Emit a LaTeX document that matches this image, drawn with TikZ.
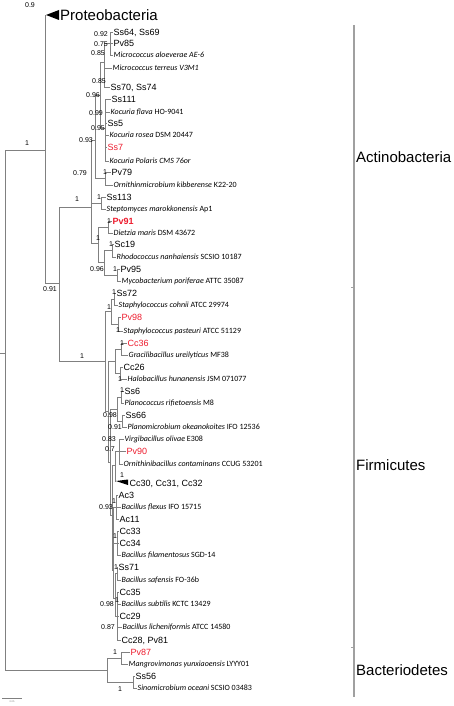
\documentclass[tikz,border=0pt]{standalone}
\usepackage{fontspec}
\setmainfont{Liberation Sans}
\newfontfamily\strainfont{Carlito}
\usepackage{tikz}
\usetikzlibrary{positioning,calc}
\definecolor{tree_gray}{RGB}{128,128,128}
\definecolor{iso_red}{RGB}{237,28,46}
\definecolor{clade_gray}{RGB}{160,160,160}
\tikzset{
  branch/.style={draw=tree_gray, line width=0.8pt},
  leaf/.style={anchor=west, inner sep=0.5pt, font=\fontsize{9}{10}\selectfont, text height=6.5pt, text depth=0pt},
  ref/.style={anchor=west, inner sep=0.5pt, font=\strainfont\fontsize{8}{9}\selectfont, text height=5.2pt, text depth=0pt},
  boot/.style={inner sep=0pt, font=\fontsize{7}{8}\selectfont, text height=5pt, text depth=0pt},
  clade/.style={anchor=west, inner sep=0pt, font=\fontsize{15}{17}\selectfont, text height=10.8pt, text depth=0pt},
}
\newcommand{\taxon}[1]{\textit{#1}}
\begin{document}
\begin{tikzpicture}[x=1pt, y=-1pt]
        \useasboundingbox (0,0) rectangle (454,706);
        % Internal nodes
        \coordinate (root) at (5,353);
        \coordinate (rootStub) at (0,353);
        \coordinate (nOut) at (45,150);
        \coordinate (nIn) at (59,283);
        \coordinate (nAct) at (91,207);
        \coordinate (nTop) at (95,140);
        \coordinate (m3) at (100,95);
        \coordinate (m2) at (104,62);
        \coordinate (m1) at (110,43);
        \coordinate (k1) at (105,128);
        \coordinate (nPv79) at (105,178);
        \coordinate (nSs113) at (101,203);
        \coordinate (nBot) at (98,243);
        \coordinate (nPv91) at (108,227);
        \coordinate (nRh) at (104,262);
        \coordinate (nSc19) at (112,250);
        \coordinate (nPv95) at (117,275);
        \coordinate (nFir) at (105,361);
        \coordinate (nStaph) at (111,311);
        \coordinate (nCoh) at (114,299);
        \coordinate (nPas) at (118,324);
        \coordinate (nF2) at (108,411);
        \coordinate (nHalo) at (115,361);
        \coordinate (nCc36) at (121,349);
        \coordinate (nCc26) at (120,373);
        \coordinate (nF3) at (110,462);
        \coordinate (nPlan) at (117,409);
        \coordinate (nSs6) at (121,397);
        \coordinate (nSs66) at (122,421);
        \coordinate (nF4) at (112,515);
        \coordinate (nVirg) at (115,465);
        \coordinate (nOrn) at (119,451);
        \coordinate (nBac) at (113,570);
        \coordinate (nAc) at (116,507);
        \coordinate (nCc33) at (117,543);
        \coordinate (nBs) at (115,598);
        \coordinate (nSs71) at (117,573);
        \coordinate (nBs2) at (117,616);
        \coordinate (nBact) at (107,670);
        \coordinate (nPv87) at (121,658);
        \coordinate (nSs56) at (133,682);
        % Collapsed clades
        \coordinate (proTip) at (46,15);
        \coordinate (proA) at (59,10);
        \coordinate (proB) at (59,20);
        \coordinate (ccTip) at (116,481);
        \coordinate (ccA) at (128,479.5);
        \coordinate (ccB) at (128,485);
        % Leaves, Actinobacteria
        \node[clade] (Proteo) at (60,15) {Proteobacteria};
        \node[leaf] (Ss64) at (113,32) {Ss64, Ss69};
        \node[leaf] (Pv85) at (113,43) {Pv85};
        \node[ref] (Mal) at (113,55) {\taxon{Micrococcus aloeverae AE-6}};
        \node[ref] (Mte) at (112,68) {\taxon{Micrococcus terreus V3M1}};
        \node[leaf] (Ss70) at (110,87) {Ss70, Ss74};
        \node[leaf] (Ss111) at (111,99) {Ss111};
        \node[ref] (Kfl) at (110,112) {\taxon{Kocuria flava} HO-9041};
        \node[leaf] (Ss5) at (107,123) {Ss5};
        \node[ref] (Kro) at (109,135) {\taxon{Kocuria rosea} DSM 20447};
        \node[leaf, iso_red] (Ss7) at (107,147) {Ss7};
        \node[ref] (Kpo) at (109,161) {\taxon{Kocuria Polaris CMS 76or}};
        \node[leaf] (Pv79) at (111,172) {Pv79};
        \node[ref] (Oki) at (113,185) {\taxon{Ornithinmicrobium kibberense} K22-20};
        \node[leaf] (Ss113) at (106,197) {Ss113};
        \node[ref] (Sma) at (106,209) {\taxon{Steptomyces marokkonensis} Ap1};
        \node[leaf, iso_red, font=\bfseries\fontsize{9}{10}\selectfont] (Pv91) at (112,221) {Pv91};
        \node[ref] (Dma) at (113,233) {\taxon{Dietzia maris} DSM 43672};
        \node[leaf] (Sc19) at (114,244) {Sc19};
        \node[ref] (Rna) at (116,257) {\taxon{Rhodococcus nanhaiensis} SCSIO 10187};
        \node[leaf] (Pv95) at (120,269) {Pv95};
        \node[ref] (Mpo) at (121,281) {\taxon{Mycobacterium poriferae} ATTC 35087};
        % Leaves, Firmicutes
        \node[leaf] (Ss72) at (116,293) {Ss72};
        \node[ref] (Sco) at (118,305) {\taxon{Staphylococcus cohnii} ATCC 29974};
        \node[leaf, iso_red] (Pv98) at (121,317) {Pv98};
        \node[ref] (Spa) at (123,331) {\taxon{Staphylococcus pasteuri} ATCC 51129};
        \node[leaf, iso_red] (Cc36) at (127,343) {Cc36};
        \node[ref] (Gur) at (128,355) {\taxon{Gracilibacillus ureilyticus} MF38};
        \node[leaf] (Cc26) at (123,367) {Cc26};
        \node[ref] (Hhu) at (127,379) {\taxon{Halobacillus hunanensis} JSM 071077};
        \node[leaf] (Ss6) at (124,391) {Ss6};
        \node[ref] (Pri) at (124,403) {\taxon{Planococcus rifietoensis} M8};
        \node[leaf] (Ss66) at (125,415) {Ss66};
        \node[ref] (Pok) at (127,427) {\taxon{Planomicrobium okeanokoites} IFO 12536};
        \node[ref] (Vol) at (124,439) {\taxon{Virgibacillus olivae} E308};
        \node[leaf, iso_red] (Pv90) at (126,451) {Pv90};
        \node[ref] (Oco) at (123,464) {\taxon{Ornithinibacillus contaminans} CCUG 53201};
        \node[leaf] (Cc30) at (129,483) {Cc30, Cc31, Cc32};
        \node[leaf] (Ac3) at (118,495) {Ac3};
        \node[ref] (Bfl) at (121,507) {\taxon{Bacillus flexus} IFO 15715};
        \node[leaf] (Ac11) at (119,519) {Ac11};
        \node[leaf] (Cc33) at (119,531) {Cc33};
        \node[leaf] (Cc34) at (119,543) {Cc34};
        \node[ref] (Bfi) at (121,555) {\taxon{Bacillus filamentosus} SGD-14};
        \node[leaf] (Ss71) at (118,567) {Ss71};
        \node[ref] (Bsa) at (121,580) {\taxon{Bacillus safensis} FO-36b};
        \node[leaf] (Cc35) at (119,592) {Cc35};
        \node[ref] (Bsu) at (121,604) {\taxon{Bacillus subtilis} KCTC 13429};
        \node[leaf] (Cc29) at (119,616) {Cc29};
        \node[ref] (Bli) at (122,627) {\taxon{Bacillus licheniformis} ATCC 14580};
        \node[leaf] (Cc28) at (121,640) {Cc28, Pv81};
        % Leaves, Bacteriodetes
        \node[leaf, iso_red] (Pv87) at (130,652) {Pv87};
        \node[ref] (Myu) at (128,664) {\taxon{Mangrovimonas yunxiaoensis} LYYY01};
        \node[leaf] (Ss56) at (135,676) {Ss56};
        \node[ref] (Soc) at (137,688) {\taxon{Sinomicrobium oceani} SCSIO 03483};
        % Backbone
        \draw[branch] (rootStub) -- (root);
        \draw[branch] (root) |- (nOut);
        \draw[branch] (root) |- (nBact);
        \draw[branch] (nOut) |- (proTip);
        \fill (proTip) -- (proA) -- (proB) -- cycle;
        \draw[branch] (nOut) |- (nIn);
        \draw[branch] (nIn) |- (nAct);
        \draw[branch] (nIn) |- (nFir);
        % Actinobacteria branches
        \draw[branch] (nAct) |- (nTop);
        \draw[branch] (nAct) |- (nSs113);
        \draw[branch] (nAct) |- (nBot);
        \draw[branch] (nTop) |- (m3);
        \draw[branch] (nTop) |- (nPv79);
        \draw[branch] (m3) |- (m2);
        \draw[branch] (m3) |- (k1);
        \draw[branch] (m2) |- (m1);
        \draw[branch] (m2) |- (Mte.west);
        \draw[branch] (m2) |- (Ss70.west);
        \draw[branch] (m1) |- (Ss64.west);
        \draw[branch] (m1) |- (Pv85.west);
        \draw[branch] (m1) |- (Mal.west);
        \draw[branch] (k1) |- (Ss111.west);
        \draw[branch] (k1) |- (Kfl.west);
        \draw[branch] (k1) |- (Ss5.west);
        \draw[branch] (k1) |- (Kro.west);
        \draw[branch] (k1) |- (Ss7.west);
        \draw[branch] (k1) |- (Kpo.west);
        \draw[branch] (nPv79) |- (Pv79.west);
        \draw[branch] (nPv79) |- (Oki.west);
        \draw[branch] (nSs113) |- (Ss113.west);
        \draw[branch] (nSs113) |- (Sma.west);
        \draw[branch] (nBot) |- (nPv91);
        \draw[branch] (nBot) |- (nRh);
        \draw[branch] (nPv91) |- (Pv91.west);
        \draw[branch] (nPv91) |- (Dma.west);
        \draw[branch] (nRh) |- (nSc19);
        \draw[branch] (nRh) |- (nPv95);
        \draw[branch] (nSc19) |- (Sc19.west);
        \draw[branch] (nSc19) |- (Rna.west);
        \draw[branch] (nPv95) |- (Pv95.west);
        \draw[branch] (nPv95) |- (Mpo.west);
        % Firmicutes branches
        \draw[branch] (nFir) |- (nStaph);
        \draw[branch] (nFir) |- (nF2);
        \draw[branch] (nStaph) |- (nCoh);
        \draw[branch] (nStaph) |- (nPas);
        \draw[branch] (nCoh) |- (Ss72.west);
        \draw[branch] (nCoh) |- (Sco.west);
        \draw[branch] (nPas) |- (Pv98.west);
        \draw[branch] (nPas) |- (Spa.west);
        \draw[branch] (nF2) |- (nHalo);
        \draw[branch] (nF2) |- (nF3);
        \draw[branch] (nHalo) |- (nCc36);
        \draw[branch] (nHalo) |- (nCc26);
        \draw[branch] (nCc36) |- (Cc36.west);
        \draw[branch] (nCc36) |- (Gur.west);
        \draw[branch] (nCc26) |- (Cc26.west);
        \draw[branch] (nCc26) |- (Hhu.west);
        \draw[branch] (nF3) |- (nPlan);
        \draw[branch] (nF3) |- (nF4);
        \draw[branch] (nPlan) |- (nSs6);
        \draw[branch] (nPlan) |- (nSs66);
        \draw[branch] (nSs6) |- (Ss6.west);
        \draw[branch] (nSs6) |- (Pri.west);
        \draw[branch] (nSs66) |- (Ss66.west);
        \draw[branch] (nSs66) |- (Pok.west);
        \draw[branch] (nF4) |- (nVirg);
        \draw[branch] (nF4) |- (nBac);
        \draw[branch] (nVirg) |- (nOrn);
        \draw[branch] (nVirg) |- (ccTip);
        \fill (ccTip) -- (ccA) -- (ccB) -- cycle;
        \draw[branch] (nOrn) |- (Vol.west);
        \draw[branch] (nOrn) |- (Pv90.west);
        \draw[branch] (nOrn) |- (Oco.west);
        \draw[branch] (nBac) |- (nAc);
        \draw[branch] (nBac) |- (nCc33);
        \draw[branch] (nBac) |- (nBs);
        \draw[branch] (nAc) |- (Ac3.west);
        \draw[branch] (nAc) |- (Bfl.west);
        \draw[branch] (nAc) |- (Ac11.west);
        \draw[branch] (nCc33) |- (Cc33.west);
        \draw[branch] (nCc33) |- (Cc34.west);
        \draw[branch] (nCc33) |- (Bfi.west);
        \draw[branch] (nBs) |- (nSs71);
        \draw[branch] (nBs) |- (nBs2);
        \draw[branch] (nSs71) |- (Ss71.west);
        \draw[branch] (nSs71) |- (Bsa.west);
        \draw[branch] (nBs2) |- (Cc35.west);
        \draw[branch] (nBs2) |- (Bsu.west);
        \draw[branch] (nBs2) |- (Cc29.west);
        \draw[branch] (nBs2) |- (Bli.west);
        \draw[branch] (nBs2) |- (Cc28.west);
        % Bacteriodetes branches
        \draw[branch] (nBact) |- (nPv87);
        \draw[branch] (nBact) |- (nSs56);
        \draw[branch] (nPv87) |- (Pv87.west);
        \draw[branch] (nPv87) |- (Myu.west);
        \draw[branch] (nSs56) |- (Ss56.west);
        \draw[branch] (nSs56) |- (Soc.west);
        % Support values
        \node[boot] (b01) at (30,5) {0.9};
        \node[boot] (b02) at (27,143) {1};
        \node[boot] (b03) at (101,34) {0.92};
        \node[boot] (b04) at (101,44) {0.75};
        \node[boot] (b05) at (98,53) {0.85};
        \node[boot] (b06) at (99,81) {0.85};
        \node[boot] (b07) at (93,95) {0.96};
        \node[boot] (b08) at (96,113) {0.99};
        \node[boot] (b09) at (98,128) {0.95};
        \node[boot] (b10) at (86,140) {0.93};
        \node[boot] (b11) at (80,173) {0.79};
        \node[boot] (b12) at (105,172) {1};
        \node[boot] (b13) at (77,199) {1};
        \node[boot] (b14) at (99,197) {1};
        \node[boot] (b15) at (109,221) {1};
        \node[boot] (b16) at (98,238) {1};
        \node[boot] (b17) at (111,244) {1};
        \node[boot] (b18) at (97,269) {0.96};
        \node[boot] (b19) at (115,269) {1};
        \node[boot] (b20) at (50,289) {0.91};
        \node[boot] (b21) at (114,292) {1};
        \node[boot] (b22) at (109,307) {1};
        \node[boot] (b23) at (118,330) {1};
        \node[boot] (b24) at (82,356) {1};
        \node[boot] (b25) at (122,343) {1};
        \node[boot] (b26) at (120,379) {1};
        \node[boot] (b27) at (122,390) {1};
        \node[boot] (b28) at (110,415) {0.98};
        \node[boot] (b29) at (115,427) {0.91};
        \node[boot] (b30) at (109,439) {0.83};
        \node[boot] (b31) at (110,449) {0.7};
        \node[boot] (b32) at (122,475) {1};
        \node[boot] (b33) at (106,507) {0.93};
        \node[boot] (b34) at (114,501) {1};
        \node[boot] (b35) at (115,536) {1};
        \node[boot] (b36) at (116,567) {1};
        \node[boot] (b37) at (107,604) {0.98};
        \node[boot] (b38) at (117,600) {1};
        \node[boot] (b39) at (108,627) {0.87};
        \node[boot] (b40) at (115,652) {1};
        \node[boot] (b41) at (120,689) {1};
        % Clade bar
        \coordinate (sepTop) at (354,25);
        \coordinate (sepBot) at (354,697);
        \coordinate (tickA) at (351,287);
        \coordinate (tickB) at (351,647);
        \draw[clade_gray, line width=1.2pt] (sepTop) -- (sepBot);
        \draw[clade_gray, line width=0.6pt] (tickA) -- (tickA -| sepTop);
        \draw[clade_gray, line width=0.6pt] (tickB) -- (tickB -| sepTop);
        \node[clade] (Actino) at (356,157) {Actinobacteria};
        \node[clade] (Firmi) at (356,465) {Firmicutes};
        \node[clade] (Bacte) at (356,670) {Bacteriodetes};
        % Scale bar
        \coordinate (scaleL) at (2,698);
        \coordinate (scaleR) at (22,698);
        \draw[tree_gray, line width=0.5pt] (scaleL) -- (scaleR);
        \node[inner sep=0pt, font=\fontsize{2.5}{3}\selectfont, tree_gray] (scaleTxt) at (12,702) {0.05};
        \end{tikzpicture}
\end{document}
